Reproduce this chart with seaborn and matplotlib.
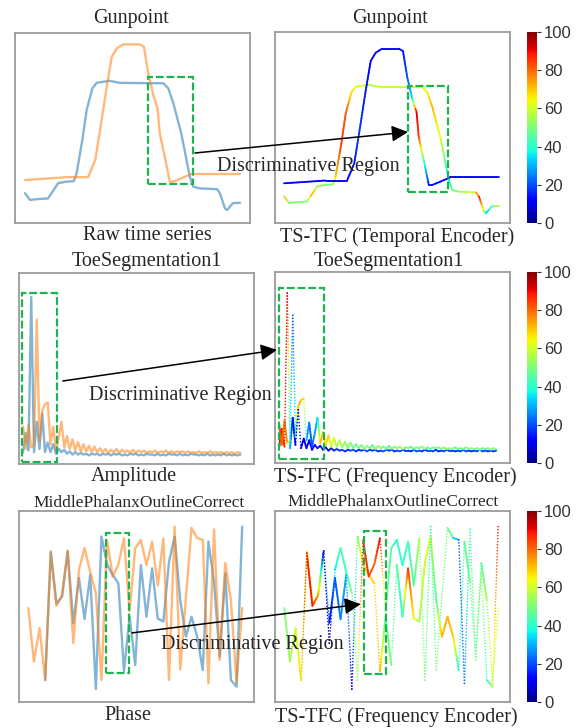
import numpy as np
import matplotlib
matplotlib.use('Agg')
import matplotlib.pyplot as plt
import seaborn as sns
from matplotlib.collections import LineCollection
from matplotlib.patches import Rectangle, ConnectionPatch, ArrowStyle

# ---- Gunpoint (raw series, two classes) ----
gp_t_a = [0, 3.5, 8, 16, 20, 23, 29, 34, 36, 40, 43, 47, 50, 59, 66, 85, 96.5, 100, 103.5,
          109, 115, 117.5, 122, 134, 136, 139.5, 141, 145, 150]
gp_a = [-1.08, -1.25, -1.23, -1.21, -1.0, -0.83, -0.79, -0.78, -0.58, 0.25, 1.0, 1.54, 1.68,
        1.73, 1.68, 1.67, 1.67, 1.54, 1.17, 0.42, -0.67, -0.92, -0.96, -0.98, -1.08, -1.46,
        -1.5, -1.33, -1.32]
gp_att_a = [75, 50, 50, 50, 75, 55, 50, 50, 70, 85, 82, 68, 62, 60, 58, 58, 60, 65, 72, 62,
            35, 45, 55, 60, 90, 60, 30, 45, 60]

gp_t_b = [0, 17, 29, 44, 49, 52, 57, 60.5, 64, 68.5, 80, 83, 86, 89.5, 92.5, 94, 98, 101,
          103.5, 109, 116, 122, 150]
gp_b = [-0.75, -0.71, -0.68, -0.68, -0.25, 0.42, 1.58, 2.33, 2.54, 2.64, 2.64, 2.58, 1.92,
        1.38, 1.04, 0.42, -0.25, -0.79, -0.79, -0.71, -0.6, -0.6, -0.6]
gp_att_b = [12, 12, 12, 12, 14, 18, 15, 12, 12, 12, 12, 14, 20, 35, 92, 85, 40, 15, 12, 12,
            12, 12, 12]

# ---- ToeSegmentation1 (amplitude spectrum) ----
toe_a = [0.3, 1.5, 0.4, 10.0, 0.3, 2.2, 0.5, 2.7, 0.3, 0.9,
         0.3, 0.8, 0.2, 0.5, 0.3, 0.45, 0.2, 0.35, 0.15, 0.3,
         0.15, 0.25, 0.15, 0.2, 0.1, 0.2, 0.15, 0.2, 0.1, 0.2,
         0.15, 0.2, 0.1, 0.2, 0.15, 0.2, 0.1, 0.15, 0.1, 0.2,
         0.15, 0.2, 0.1, 0.15, 0.1, 0.2, 0.15, 0.15, 0.1, 0.2,
         0.1, 0.15, 0.1, 0.2, 0.15, 0.15, 0.1, 0.2, 0.1, 0.15,
         0.1, 0.2, 0.15, 0.15, 0.1, 0.15, 0.1, 0.2, 0.1, 0.15,
         0.1, 0.15, 0.1, 0.2, 0.1, 0.15, 0.1, 0.15, 0.1, 0.15]
toe_b = [1.9, 0.5, 2.0, 0.6, 0.8, 8.6, 1.0, 2.9, 3.3, 3.4,
         0.8, 1.9, 0.4, 1.2, 2.2, 0.6, 1.3, 0.5, 1.1, 0.4,
         0.95, 0.35, 0.8, 0.35, 0.7, 0.3, 0.65, 0.3, 0.55, 0.3,
         0.5, 0.25, 0.45, 0.3, 0.5, 0.25, 0.45, 0.3, 0.4, 0.25,
         0.45, 0.25, 0.4, 0.3, 0.4, 0.25, 0.35, 0.3, 0.4, 0.25,
         0.35, 0.3, 0.4, 0.25, 0.35, 0.25, 0.35, 0.3, 0.35, 0.25,
         0.35, 0.25, 0.3, 0.25, 0.35, 0.25, 0.3, 0.25, 0.35, 0.25,
         0.3, 0.25, 0.3, 0.2, 0.3, 0.25, 0.3, 0.2, 0.3, 0.25]
toe_att_a = [95, 90, 88, 92, 30, 15, 10, 12, 10, 8,
             12, 10, 15, 10, 12, 14, 15, 12, 14, 15,
             15, 18, 15, 20, 18, 15, 20, 22, 18, 15,
             20, 18, 22, 20, 18, 20, 15, 18, 20, 22,
             18, 20, 15, 20, 22, 18, 20, 18, 15, 20,
             22, 20, 18, 15, 20, 22, 18, 20, 15, 18,
             20, 22, 18, 20, 15, 20, 18, 22, 20, 18,
             15, 20, 18, 22, 20, 18, 20, 15, 18, 20]
toe_att_b = [85, 80, 78, 75, 40, 22, 40, 70, 72, 68,
             30, 25, 20, 28, 32, 70, 72, 65, 70, 60,
             62, 55, 58, 52, 55, 50, 52, 48, 50, 45,
             52, 48, 55, 50, 45, 48, 52, 55, 50, 48,
             45, 50, 52, 48, 55, 58, 50, 48, 52, 45,
             50, 48, 55, 52, 50, 45, 48, 52, 50, 48,
             55, 52, 58, 50, 48, 45, 50, 52, 48, 50,
             55, 50, 48, 52, 50, 45, 48, 50, 52, 50]

# ---- MiddlePhalanxOutlineCorrect (phase) ----
mp_a = [np.nan, np.nan, np.nan, -2.45, 1.83, 0.1, 0.33, 1.85, -0.55, 0.95,
        -0.42, 1.05, -2.75, 2.33, 1.4, 1.05, 0.77, -2.15, -0.34, -1.95,
        1.38, -0.34, 1.27, -0.4, -0.5, 1.49, 2.33, 0.2, -1.0, -0.34,
        -1.0, -2.12, 2.16, 0.8, -1.67, 1.1, -2.45, -2.67, 2.66]
mp_b = [-0.05, -1.84, -0.72, -2.45, 1.78, 0.02, 0.38, 1.85, -1.22, 1.22,
        1.95, 1.15, 0.45, -2.45, 2.2, 1.0, 1.4, 2.27, -0.15, 1.94,
        2.22, 1.38, 2.16, 0.7, 2.27, -2.45, 2.66, -2.1, 0.3, 2.62,
        2.28, 2.22, -2.56, 2.57, -1.78, 1.45, 0.2, -2.54, -0.05]
mp_att_a = [0, 0, 0, 60, 60, 65, 60, 55, 15, 20,
            25, 30, 10, 50, 70, 68, 68, 72, 45, 50,
            45, 40, 85, 65, 55, 60, 62, 45, 72, 72,
            70, 40, 45, 50, 45, 55, 40, 55, 90]
mp_att_b = [50, 55, 60, 68, 88, 88, 75, 10, 5, 35,
            45, 40, 50, 55, 88, 85, 80, 90, 50, 45,
            40, 40, 42, 45, 55, 50, 40, 50, 50, 48,
            45, 20, 25, 45, 50, 45, 55, 60, 62]

W, H = 579, 728
BLUE, ORANGE, GREEN = '#1f77b4', '#ff7f0e', '#1db34f'
cmap = plt.get_cmap('jet')
norm = plt.Normalize(0, 100)

sns.set_style("white")
plt.rcParams['font.family'] = ['Liberation Serif', 'DejaVu Serif']

fig = plt.figure(figsize=(W / 100, H / 100), dpi=100)


def add_panel(x0, y0, x1, y1, xlim, ylim):
    ax = fig.add_axes([x0 / W, 1 - y1 / H, (x1 - x0) / W, (y1 - y0) / H])
    ax.set_xlim(*xlim)
    ax.set_ylim(*ylim)
    ax.set_xticks([])
    ax.set_yticks([])
    for s in ax.spines.values():
        s.set_visible(True)
        s.set_color('#9b9b9b')
        s.set_linewidth(1.3)
    return ax


def raw_lines(ax, x_a, y_a, x_b, y_b):
    for x, y, c in [(x_a, y_a, BLUE), (x_b, y_b, ORANGE)]:
        x = np.asarray(x, float)
        y = np.asarray(y, float)
        ok = ~np.isnan(y)
        sns.lineplot(x=x[ok], y=y[ok], ax=ax, color=c, alpha=0.55, lw=1.7,
                     estimator=None, sort=False)
    ax.set_xlabel('')
    ax.set_ylabel('')


def attention_line(ax, x, y, att, dot_px=None, lw=1.3):
    x = np.asarray(x, float)
    y = np.asarray(y, float)
    att = np.asarray(att, float)
    ok = ~np.isnan(y)
    x, y, att = x[ok], y[ok], att[ok]
    pix = ax.transData.transform(np.column_stack([x, y]))
    segs, cols, dots, dcols = [], [], [], []
    for k in range(len(x) - 1):
        length = np.hypot(*(pix[k + 1] - pix[k]))
        f = np.linspace(0, 1, max(2, int(length / 3) + 1))
        xs = x[k] + f * (x[k + 1] - x[k])
        ys = y[k] + f * (y[k + 1] - y[k])
        cs = att[k] + f * (att[k + 1] - att[k])
        pts = np.column_stack([xs, ys])
        if dot_px is not None and length > dot_px:
            dots.append(pts)
            dcols.append(cs)
        else:
            segs.extend(np.stack([pts[:-1], pts[1:]], axis=1))
            cols.extend((cs[:-1] + cs[1:]) / 2)
    if segs:
        ax.add_collection(LineCollection(segs, colors=cmap(norm(np.array(cols))),
                                         linewidths=lw, capstyle='round'))
    if dots:
        d = np.vstack(dots)
        ax.scatter(d[:, 0], d[:, 1], c=np.concatenate(dcols), cmap=cmap, norm=norm,
                   s=1.3, lw=0, zorder=3)


def add_box(ax, x0, x1, y0, y1):
    ax.add_patch(Rectangle((x0, y0), x1 - x0, y1 - y0, fill=False, ec=GREEN, lw=1.6,
                           ls=(0, (3.5, 1.3)), clip_on=False, zorder=5))


def add_arrow(ax_a, xy_a, ax_b, xy_b):
    con = ConnectionPatch(xyA=xy_a, coordsA=ax_a.transData, xyB=xy_b, coordsB=ax_b.transData,
                          arrowstyle=ArrowStyle('-|>', head_length=0.7, head_width=0.35),
                          mutation_scale=14, lw=1.1, color='black', zorder=8)
    fig.add_artist(con)


def add_cbar(y0, y1):
    cax = fig.add_axes([527 / W, 1 - y1 / H, 10 / W, (y1 - y0) / H])
    sm = plt.cm.ScalarMappable(cmap=cmap, norm=norm)
    cb = fig.colorbar(sm, cax=cax, ticks=[0, 20, 40, 60, 80, 100])
    cb.outline.set_visible(False)
    cax.tick_params(length=3, width=0.8, pad=2, labelsize=12, colors='#333333')
    for lab in cax.get_yticklabels():
        lab.set_family('Liberation Sans')


def label(x, y, s, size=14.5):
    fig.text(x / W, 1 - y / H, s, ha='center', va='center', fontsize=size, zorder=10)


# row 1: Gunpoint
ax1 = add_panel(15, 33, 250, 223, (-7, 157), (-1.825, 2.925))
raw_lines(ax1, gp_t_a, gp_a, gp_t_b, gp_b)
add_box(ax1, 85.8, 117.2, -0.85, 1.825)

ax2 = add_panel(275, 32, 510, 223, (-6.3, 157.7), (-1.75, 3.06))
attention_line(ax2, gp_t_a, gp_a, gp_att_a)
attention_line(ax2, gp_t_b, gp_b, gp_att_b)
add_box(ax2, 86.5, 114.4, -0.97, 1.70)
add_cbar(32, 223)
add_arrow(ax1, (118.6, -0.075), ax2, (86.5, 0.54))

# row 2: ToeSegmentation1
idx_toe = np.arange(len(toe_a))
ax3 = add_panel(19, 273, 254, 464, (-1.45, 84), (-0.44, 11.5))
raw_lines(ax3, idx_toe, toe_a, idx_toe, toe_b)
add_box(ax3, -0.35, 12.4, -0.31, 10.25)

ax4 = add_panel(275, 272, 510, 463, (-1.45, 84), (-0.625, 11.31))
attention_line(ax4, idx_toe, toe_a, toe_att_a, dot_px=35)
attention_line(ax4, idx_toe, toe_b, toe_att_b, dot_px=35)
add_box(ax4, 0, 16.4, -0.375, 10.3)
add_cbar(272, 463)
add_arrow(ax3, (14.5, 4.75), ax4, (-0.73, 6.44))

# row 3: MiddlePhalanxOutlineCorrect
idx_mp = np.arange(len(mp_a))
ax5 = add_panel(19, 511, 254, 702, (-1.65, 40.1), (-3.18, 3.18))
raw_lines(ax5, idx_mp, mp_a, idx_mp, mp_b)
add_box(ax5, 13.8, 17.9, -2.22, 2.45)

ax6 = add_panel(275, 511, 510, 702, (-1.65, 40.1), (-3.18, 3.18))
attention_line(ax6, idx_mp, mp_a, mp_att_a, dot_px=65)
attention_line(ax6, idx_mp, mp_b, mp_att_b, dot_px=65)
add_box(ax6, 14.2, 18.1, -2.25, 2.52)
add_cbar(511, 702)
add_arrow(ax5, (18.4, -0.88), ax6, (13.6, 0.08))

# titles and captions
label(131, 18, 'Gunpoint')
label(390, 18, 'Gunpoint')
label(147, 236, 'Raw time series')
label(397, 237, 'TS-TFC (Temporal Encoder)')
label(147, 261, 'ToeSegmentation1')
label(389, 261, 'ToeSegmentation1')
label(134, 477, 'Amplitude')
label(395, 477, 'TS-TFC (Frequency Encoder)')
label(139, 503, 'MiddlePhalanxOutlineCorrect', size=12.5)
label(393, 502, 'MiddlePhalanxOutlineCorrect', size=12.5)
label(128, 716, 'Phase')
label(396, 717, 'TS-TFC (Frequency Encoder)')

label(308, 166, 'Discriminative Region')
label(180, 396, 'Discriminative Region')
label(252, 644, 'Discriminative Region')

fig.savefig('out.png', dpi=100)
